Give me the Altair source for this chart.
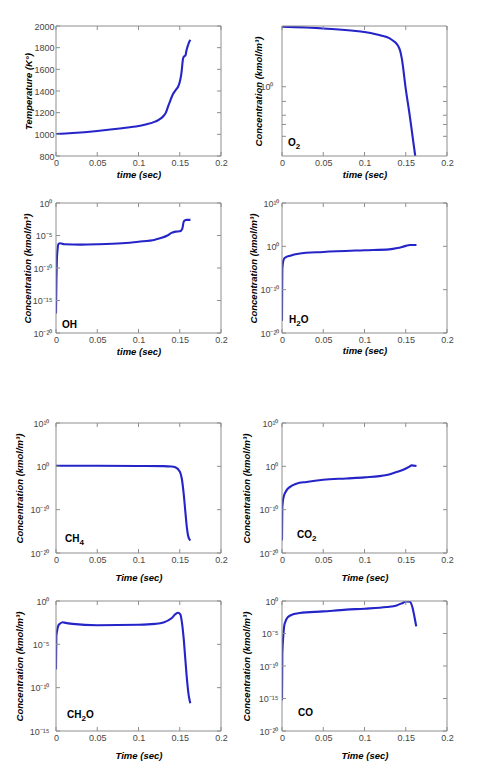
import altair as alt
import pandas as pd

# ---------------- data (time in s, temperature in K, concentrations in kmol/m^3) ----------------
temp_t = [0, 0.02, 0.05, 0.08, 0.1, 0.11, 0.12, 0.125, 0.13, 0.133, 0.136, 0.139, 0.142,
          0.145, 0.148, 0.15, 0.152, 0.154, 0.155, 0.157, 0.158, 0.16, 0.162, 0.163]
temp_k = [1003, 1012, 1031, 1056, 1077, 1093, 1117, 1136, 1167, 1198, 1260, 1321, 1374,
          1408, 1439, 1482, 1563, 1699, 1717, 1730, 1770, 1822, 1862, 1872]

o2_t = [0, 0.05, 0.1, 0.12, 0.13, 0.135, 0.14, 0.1432, 0.1452, 0.15, 0.155, 0.158, 0.1615]
o2_c = [4.30, 4.12, 3.77, 3.47, 3.25, 3.04, 2.76, 2.40, 1.99, 0.95, 0.485, 0.31, 0.186]

oh_t = [0, 0.0005, 0.001, 0.002, 0.003, 0.005, 0.01, 0.03, 0.05, 0.08, 0.1, 0.12, 0.13,
        0.135, 0.14, 0.145, 0.15, 0.153, 0.155, 0.158, 0.163]
oh_c = [1e-17, 1e-12, 1e-9, 1e-7, 5.0e-7, 6.3e-7, 4.5e-7, 4.0e-7, 4.4e-7, 6.3e-7, 1.1e-6,
        2.3e-6, 5.2e-6, 1.0e-5, 2.5e-5, 4.0e-5, 4.4e-5, 1.0e-4, 1.6e-3, 2.5e-3, 2.5e-3]

h2o_t = [0, 0.0002, 0.0004, 0.0016, 0.0032, 0.01, 0.02, 0.05, 0.1, 0.13, 0.14, 0.15, 0.155, 0.163]
h2o_c = [6.3e-18, 1.6e-10, 6.3e-6, 5.0e-4, 2.0e-3, 7.1e-3, 2.0e-2, 5.0e-2, 0.126, 0.2, 0.4,
         1.26, 2.0, 2.0]

ch4_t = [0, 0.05, 0.1, 0.13, 0.14, 0.1446, 0.15, 0.1527, 0.1547, 0.1568, 0.1588, 0.16, 0.1616, 0.163]
ch4_c = [1.41, 1.32, 1.2, 1.1, 0.89, 0.59, 0.068, 7.9e-4, 6.3e-7, 3.2e-11, 4.0e-15, 1.26e-16,
         1.6e-17, 7.9e-18]

co2_t = [0, 0.0004, 0.002, 0.0053, 0.0093, 0.0174, 0.0296, 0.05, 0.078, 0.1, 0.127, 0.139,
         0.147, 0.155, 0.157, 0.163]
co2_c = [7.9e-18, 5.0e-10, 1.0e-7, 2.5e-6, 1.6e-5, 1.0e-4, 2.5e-4, 7.9e-4, 1.6e-3, 2.8e-3,
         1.0e-2, 5.0e-2, 0.166, 1.0, 1.7, 1.2]

ch2o_t = [0, 0.0004, 0.0016, 0.003, 0.005, 0.008, 0.01, 0.02, 0.05, 0.1, 0.12, 0.13, 0.14,
          0.145, 0.1479, 0.1507, 0.1527, 0.1547, 0.1568, 0.1588, 0.1608, 0.1628]
ch2o_c = [1.26e-8, 7.9e-5, 5.0e-4, 1.6e-3, 2.5e-3, 3.5e-3, 3.2e-3, 2.3e-3, 1.6e-3, 1.8e-3,
          2.3e-3, 3.3e-3, 1.0e-2, 3.2e-2, 4.4e-2, 2.8e-2, 3.0e-3, 5.5e-5, 1.7e-7, 7.9e-10,
          1.4e-11, 1.6e-12]

co_t = [0, 0.0002, 0.0004, 0.0016, 0.0032, 0.0073, 0.0134, 0.0215, 0.05, 0.078, 0.1, 0.127,
        0.139, 0.147, 0.151, 0.155, 0.158, 0.1606, 0.1627]
co_c = [5.0e-16, 6.3e-13, 7.9e-9, 5.0e-6, 3.2e-4, 3.5e-3, 8.9e-3, 1.4e-2, 2.5e-2, 4.7e-2,
        6.6e-2, 0.12, 0.21, 0.55, 0.89, 0.79, 0.12, 3.5e-3, 1.26e-4]

# axis ticks
time_ticks = [0, 0.05, 0.1, 0.15, 0.2]
temp_ticks = [800, 1000, 1200, 1400, 1600, 1800, 2000]
o2_ticks = [0.3, 0.4, 0.5, 0.7, 1]

# ---------------- styling ----------------
W, H = 165, 130
FONT = "Liberation Sans"
LINE = "#2424c8"
FRAME = "#8e8e8e"
LABEL = "#474747"
TICK = 4
LABEL_SIZE, TITLE_SIZE = 9, 9.5

SUP = str.maketrans("0123456789-", "⁰¹²³⁴⁵⁶⁷⁸⁹⁻")
# approximate advance widths (em) of bold sans glyphs used in species names
EM = {"C": 0.722, "H": 0.722, "O": 0.778}
SP_SIZE, SUB_SIZE = 10, 8


def power_expr(exps):
    expr = "''"
    for e in exps:
        expr = f"round(log(datum.value)/LN10) == {e} ? '10{str(e).translate(SUP)}' : " + expr
    return expr


def species_layers(formula, sx, sy):
    """Chemical formula drawn as text pieces, digits lowered as subscripts."""
    one = pd.DataFrame({"a": [0]})
    out, x = [], sx
    for ch in formula:
        sub = ch.isdigit()
        size = SUB_SIZE if sub else SP_SIZE
        out.append(alt.Chart(one).mark_text(
            text=ch, font=FONT, fontSize=size, fontWeight="bold", color="black",
            align="left", baseline="middle").encode(
            x=alt.value(x), y=alt.value(sy + (3.5 if sub else 0))))
        x += (0.556 * SUB_SIZE) if sub else EM[ch] * SP_SIZE
    return out


def panel(ts, vs, ydomain, ylog, ylabels, ytick_vals, ytitle, ytitle_x, ylab_pad,
          xtitle, xtitle_y, species, sx, sy, label_expr=None):
    xsc = alt.Scale(domain=[0, 0.2], nice=False, zero=False)
    if ylog:
        ysc = alt.Scale(type="log", domain=ydomain, nice=False)
    else:
        ysc = alt.Scale(domain=ydomain, nice=False, zero=False)

    yaxis_kw = dict(values=ylabels, title=ytitle, domain=False, ticks=False, grid=False,
                    labelFont=FONT, labelFontSize=LABEL_SIZE, labelColor=LABEL,
                    labelPadding=ylab_pad, labelOverlap=False, labelFlush=False,
                    titleFont=FONT, titleFontSize=TITLE_SIZE, titleFontWeight="bold",
                    titleFontStyle="italic", titleColor="black",
                    titleX=ytitle_x, titleY=H / 2, titleBaseline="middle")
    if label_expr is not None:
        yaxis_kw["labelExpr"] = label_expr
    else:
        yaxis_kw["format"] = "d"
    yaxis = alt.Axis(**yaxis_kw)
    xaxis = alt.Axis(
        values=time_ticks, format=".2~f", title=xtitle, domain=False, ticks=False,
        grid=False, labelFont=FONT, labelFontSize=LABEL_SIZE, labelColor=LABEL,
        labelPadding=2, labelFlush=False, labelOverlap=False,
        titleFont=FONT, titleFontSize=TITLE_SIZE, titleFontWeight="bold",
        titleFontStyle="italic", titleColor="black",
        titleX=W / 2, titleY=xtitle_y, titleBaseline="middle")

    df = pd.DataFrame({"t": ts, "v": vs})
    line = alt.Chart(df).mark_line(color=LINE, strokeWidth=2.1, interpolate="monotone",
                                   clip=True).encode(
        x=alt.X("t:Q", scale=xsc, axis=xaxis, title=xtitle),
        y=alt.Y("v:Q", scale=ysc, axis=yaxis, title=ytitle),
    )

    one = pd.DataFrame({"a": [0]})
    frame = alt.Chart(one).mark_rect(fillOpacity=0, stroke=FRAME, strokeWidth=1).encode(
        x=alt.value(0), x2=alt.value(W), y=alt.value(0), y2=alt.value(H))

    xt = alt.Chart(pd.DataFrame({"t": time_ticks})).mark_rule(color=FRAME, strokeWidth=1)
    xt_bottom = xt.encode(x=alt.X("t:Q", scale=xsc, axis=xaxis, title=xtitle),
                          y=alt.value(H), y2=alt.value(H - TICK))
    xt_top = xt.encode(x=alt.X("t:Q", scale=xsc, axis=xaxis, title=xtitle),
                       y=alt.value(0), y2=alt.value(TICK))

    yt = alt.Chart(pd.DataFrame({"v": ytick_vals})).mark_rule(color=FRAME, strokeWidth=1)
    yt_left = yt.encode(y=alt.Y("v:Q", scale=ysc, axis=yaxis, title=ytitle),
                        x=alt.value(0), x2=alt.value(TICK))
    yt_right = yt.encode(y=alt.Y("v:Q", scale=ysc, axis=yaxis, title=ytitle),
                         x=alt.value(W), x2=alt.value(W - TICK))

    layers = [line, frame, xt_bottom, xt_top, yt_left, yt_right]
    if species:
        layers += species_layers(species, sx, sy)
    return alt.layer(*layers).properties(width=W, height=H)


def spacer(h):
    return alt.Chart(pd.DataFrame({"a": [0]})).mark_point(opacity=0).encode(
        x=alt.value(0), y=alt.value(0)).properties(width=W, height=h)


CONC = "Concentration (kmol/m³)"

p_temp = panel(temp_t, temp_k, [800, 2000], False, temp_ticks, temp_ticks,
               "Temperature (K°)", -28, 2, "time (sec)", 18, None, 0, 0)

p_o2 = panel(o2_t, o2_c, [0.186, 4.37], True, [1], o2_ticks, CONC, -24, 9,
             "time (sec)", 18, "O2", 6, 117, power_expr([0]))

dec5_20 = [1e-20, 1e-15, 1e-10, 1e-5, 1]
p_oh = panel(oh_t, oh_c, [1e-20, 1], True, dec5_20, dec5_20, CONC, -29, 4,
             "time (sec)", 18.5, "OH", 6, 122, power_expr([-20, -15, -10, -5, 0]))

dec10 = [1e-20, 1e-10, 1, 1e10]
p_h2o = panel(h2o_t, h2o_c, [1e-20, 1e10], True, dec10, dec10, CONC, -29, 3,
              "time (sec)", 17, "H2O", 7, 117, power_expr([-20, -10, 0, 10]))

p_ch4 = panel(ch4_t, ch4_c, [1e-20, 1e10], True, dec10, dec10, CONC, -37, 7,
              "Time (sec)", 24.5, "CH4", 9, 116, power_expr([-20, -10, 0, 10]))

p_co2 = panel(co2_t, co2_c, [1e-20, 1e10], True, dec10, dec10, CONC, -36, 4,
              "Time (sec)", 24, "CO2", 15, 112, power_expr([-20, -10, 0, 10]))

dec5_15 = [1e-15, 1e-10, 1e-5, 1]
p_ch2o = panel(ch2o_t, ch2o_c, [1e-15, 1], True, dec5_15, dec5_15, CONC, -37, 7,
               "Time (sec)", 24.5, "CH2O", 11, 114, power_expr([-15, -10, -5, 0]))

p_co = panel(co_t, co_c, [1e-20, 1], True, dec5_20, dec5_20, CONC, -36, 4,
             "Time (sec)", 24, "CO", 16, 112, power_expr([-20, -15, -10, -5, 0]))

chart = alt.concat(
    p_temp, p_o2,
    spacer(47), spacer(47),
    p_oh, p_h2o,
    spacer(90), spacer(90),
    p_ch4, p_co2,
    spacer(48), spacer(48),
    p_ch2o, p_co,
    columns=2,
    spacing={"row": 0, "column": 61},
    bounds="flush",
).properties(
    padding={"left": 13, "top": 22, "right": 5, "bottom": 5},
    background="white",
).configure_view(stroke=None)

chart.save("out.html", embed_options={"renderer": "svg", "actions": False})
